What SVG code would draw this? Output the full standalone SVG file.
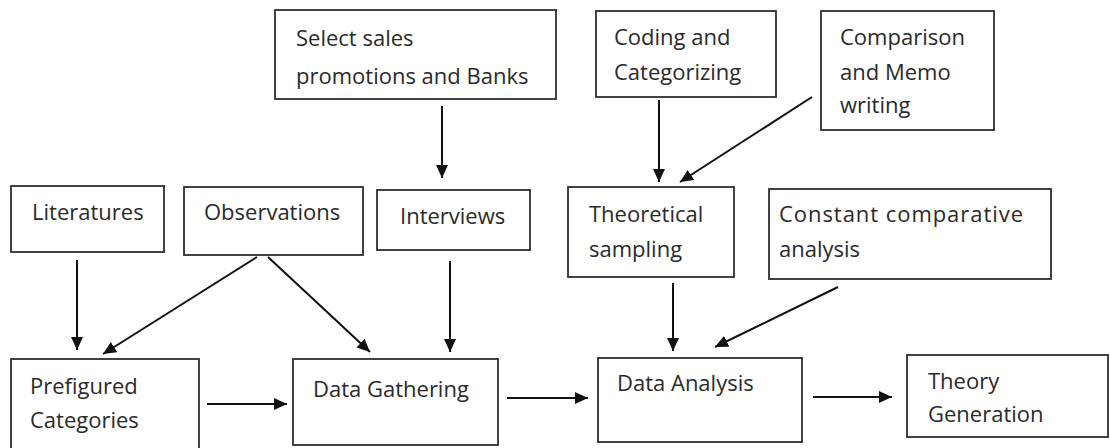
<svg xmlns="http://www.w3.org/2000/svg" width="1110" height="448" viewBox="0 0 1110 448">
<style>
.box{fill:#fff;stroke:#2e2e2e;stroke-width:1.8}
.lbl{font-family:"Open Sans","Liberation Sans",sans-serif;font-size:22px;fill:#2a2a2a}
.ar{stroke:#111;stroke-width:2;fill:none;marker-end:url(#ah)}
</style>
<defs>
<marker id="ah" markerUnits="userSpaceOnUse" markerWidth="14" markerHeight="12" refX="13" refY="6" orient="auto">
<path d="M0,0 L13,6 L0,12 z" fill="#111"/>
</marker>
</defs>
<rect width="1110" height="448" fill="#fff"/>
<g id="select"><rect class="box" x="275" y="10" width="281" height="89"/><text class="lbl" x="296" y="46">Select sales</text><text class="lbl" x="296" y="84">promotions and Banks</text></g>
<g id="coding"><rect class="box" x="596" y="11" width="180" height="86"/><text class="lbl" x="614" y="45">Coding and</text><text class="lbl" x="614" y="80">Categorizing</text></g>
<g id="comparison"><rect class="box" x="821" y="11" width="173" height="119"/><text class="lbl" x="840" y="45">Comparison</text><text class="lbl" x="840" y="80">and Memo</text><text class="lbl" x="840" y="113">writing</text></g>
<g id="literatures"><rect class="box" x="11" y="186" width="153" height="66"/><text class="lbl" x="32" y="220">Literatures</text></g>
<g id="observations"><rect class="box" x="184" y="187" width="179" height="68"/><text class="lbl" x="204" y="220">Observations</text></g>
<g id="interviews"><rect class="box" x="377" y="190" width="153" height="60"/><text class="lbl" x="400" y="224">Interviews</text></g>
<g id="theoretical"><rect class="box" x="568" y="187" width="166" height="90"/><text class="lbl" x="589" y="222">Theoretical</text><text class="lbl" x="589" y="257">sampling</text></g>
<g id="constant"><rect class="box" x="769" y="189" width="282" height="90"/><text class="lbl" x="779" y="222" textLength="244">Constant comparative</text><text class="lbl" x="779" y="257">analysis</text></g>
<g id="prefigured"><rect class="box" x="11" y="359" width="188" height="95"/><text class="lbl" x="30" y="394">Prefigured</text><text class="lbl" x="30" y="428">Categories</text></g>
<g id="gathering"><rect class="box" x="293" y="359" width="205" height="86"/><text class="lbl" x="313" y="397">Data Gathering</text></g>
<g id="analysis"><rect class="box" x="598" y="358" width="204" height="84"/><text class="lbl" x="617" y="391">Data Analysis</text></g>
<g id="theory"><rect class="box" x="907" y="355" width="201" height="82"/><text class="lbl" x="928" y="389">Theory</text><text class="lbl" x="928" y="422">Generation</text></g>
<g id="connectors">
<line class="ar" x1="442" y1="106" x2="442" y2="178"/>
<line class="ar" x1="659" y1="100" x2="659" y2="182"/>
<line class="ar" x1="812" y1="97" x2="680" y2="182"/>
<line class="ar" x1="77" y1="260" x2="77" y2="350"/>
<line class="ar" x1="257" y1="257" x2="103" y2="354"/>
<line class="ar" x1="268" y1="257" x2="370" y2="352"/>
<line class="ar" x1="450" y1="261" x2="450" y2="352"/>
<line class="ar" x1="673" y1="283" x2="673" y2="351"/>
<line class="ar" x1="838" y1="287" x2="715" y2="347"/>
<line class="ar" x1="207" y1="404" x2="287" y2="404"/>
<line class="ar" x1="507" y1="398" x2="588" y2="398"/>
<line class="ar" x1="813" y1="397" x2="892" y2="397"/>
</g>
</svg>
